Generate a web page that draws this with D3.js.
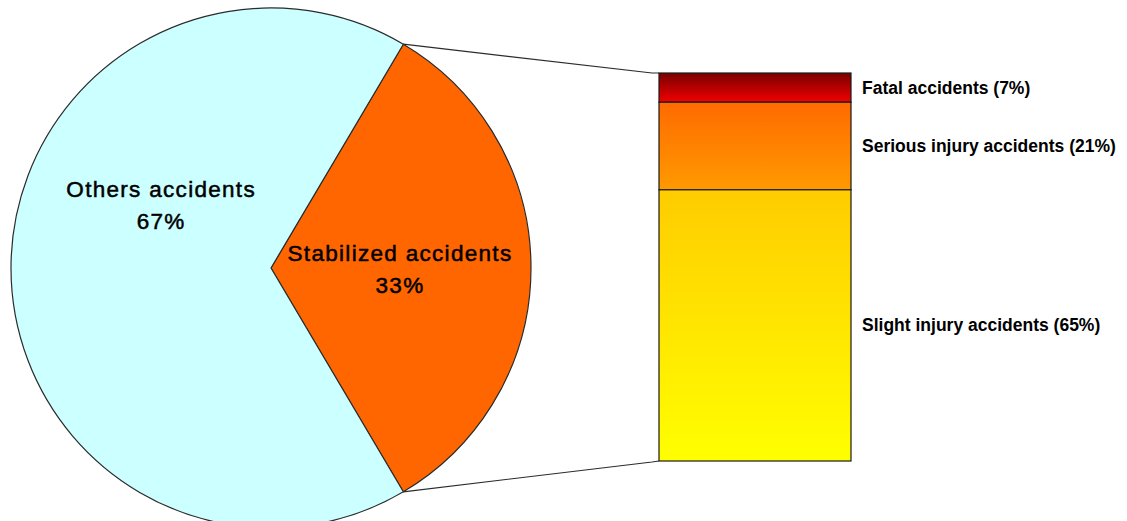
<!DOCTYPE html>
<html>
<head>
<meta charset="utf-8">
<script src="https://cdn.jsdelivr.net/npm/d3@7"></script>
<style>
  html, body { margin: 0; padding: 0; background: #ffffff; }
  svg { display: block; }
  text { fill: #000; }
</style>
</head>
<body>
<svg id="chart" width="1127" height="521"></svg>
<script>
// Pie: share of accidents
const pieCategories = ["Stabilized accidents", "Others accidents"];
const pieValues = [33, 67];

// Breakdown of the stabilized accidents (bar of pie)
const barCategories = ["Fatal accidents", "Serious injury accidents", "Slight injury accidents"];
const barValues = [7, 21, 65];

const pieColors = ["#ff6600", "#ccffff"];
const barGradients = [
  ["#780000", "#f20000"],
  ["#ff6a00", "#ff9a00"],
  ["#ffcc00", "#ffff00"]
];

const svg = d3.select("#chart");

// ---- Pie ----
const cx = 271, cy = 268, R = 260;
const stabShare = pieValues[0] / d3.sum(pieValues);
const start = Math.PI / 2 - stabShare * Math.PI; // centre the first slice at 3 o'clock

const pie = d3.pie().sort(null).startAngle(start).endAngle(start + 2 * Math.PI);
const arcs = pie(pieValues);
const arc = d3.arc().innerRadius(0).outerRadius(R);

const gPie = svg.append("g").attr("transform", `translate(${cx},${cy})`);
gPie.selectAll("path.slice")
  .data(arcs)
  .enter().append("path")
  .attr("class", "slice")
  .attr("d", arc)
  .attr("fill", (d, i) => pieColors[i])
  .attr("stroke", "#2b2b2b")
  .attr("stroke-width", 1.2)
  .attr("stroke-linejoin", "round");

// slice labels, placed on a ring inside the pie
const labelR = 128;
const labelShift = [0, Math.PI / 6];
arcs.forEach((d, i) => {
  const a = (d.startAngle + d.endAngle) / 2 + labelShift[i];
  const x = labelR * Math.sin(a) + 1, y = -labelR * Math.cos(a);
  const t = gPie.append("text")
    .attr("text-anchor", "middle")
    .attr("font-family", "'Liberation Sans', Arial, sans-serif")
    .attr("font-size", 22.5)
    .attr("letter-spacing", 1.3)
    .attr("stroke", "#000")
    .attr("stroke-width", 0.5);
  t.append("tspan").attr("x", x).attr("y", y - 7).text(pieCategories[i]);
  t.append("tspan").attr("x", x).attr("y", y + 25)
    .text(Math.round(d.value / d3.sum(pieValues) * 100) + "%");
});

// ---- Stacked bar ----
const barX = 659, barW = 192, barTop = 73, barBottom = 461;
const y = d3.scaleLinear().domain([0, d3.sum(barValues)]).range([barTop, barBottom]);
const stacks = [];
let acc = 0;
barValues.forEach((v, i) => { stacks.push({ y0: acc, y1: acc + v, v, i }); acc += v; });

const defs = svg.append("defs");
barGradients.forEach((c, i) => {
  const g = defs.append("linearGradient").attr("id", "grad" + i)
    .attr("x1", 0).attr("y1", 0).attr("x2", 0).attr("y2", 1);
  g.append("stop").attr("offset", "0%").attr("stop-color", c[0]);
  g.append("stop").attr("offset", "100%").attr("stop-color", c[1]);
});

// connector lines from slice edges to bar corners
const aTop = arcs[0].startAngle, aBot = arcs[0].endAngle;
const p1 = [cx + R * Math.sin(aTop), cy - R * Math.cos(aTop)];
const p2 = [cx + R * Math.sin(aBot), cy - R * Math.cos(aBot)];
svg.append("polyline")
  .attr("points", [p1, [barX - 7, y(0)], [barX, y(0)]].map(p => p.join(",")).join(" "))
  .attr("fill", "none").attr("stroke", "#2b2b2b").attr("stroke-width", 1.2);
svg.append("polyline")
  .attr("points", [p2, [barX - 7, y(acc) + 1], [barX, y(acc)]].map(p => p.join(",")).join(" "))
  .attr("fill", "none").attr("stroke", "#2b2b2b").attr("stroke-width", 1.2);

svg.selectAll("rect.seg")
  .data(stacks)
  .enter().append("rect")
  .attr("class", "seg")
  .attr("x", barX)
  .attr("y", d => y(d.y0))
  .attr("width", barW)
  .attr("height", d => y(d.y1) - y(d.y0))
  .attr("fill", d => `url(#grad${d.i})`)
  .attr("stroke", "#1a1a1a")
  .attr("stroke-width", 1.2);

svg.selectAll("text.seglabel")
  .data(stacks)
  .enter().append("text")
  .attr("class", "seglabel")
  .attr("x", barX + barW + 11)
  .attr("y", d => (y(d.y0) + y(d.y1)) / 2 + 6)
  .attr("font-family", "'Liberation Sans', Arial, sans-serif")
  .attr("font-size", 17.5)
  .attr("font-weight", "bold")
  .text(d => `${barCategories[d.i]} (${d.v}%)`);
</script>
</body>
</html>
